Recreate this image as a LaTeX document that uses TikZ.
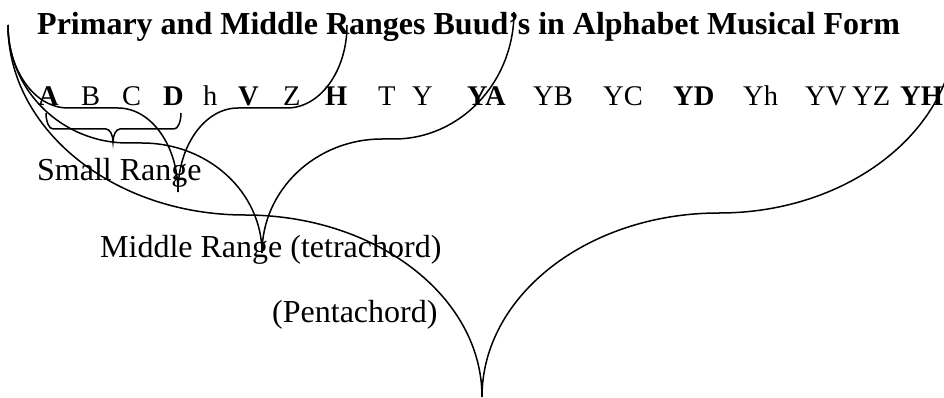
\documentclass[tikz,border=0pt]{standalone}
\usepackage{fontspec}
\setmainfont{Liberation Serif}
\newcommand\drawbrace[9]{%
% #1 xL #2 yL #3 xR #4 yR #5 xT #6 yT #7 yML #8 yMR #9 r
\pgfmathsetmacro\kk{0.5523}%
\pgfmathsetmacro\ca{#1}\pgfmathsetmacro\cb{#2+\kk*(#7-#2)}%
\pgfmathsetmacro\cc{#1+(1-\kk)*#9}\pgfmathsetmacro\pa{#1+#9}%
\pgfmathsetmacro\pb{#5-#9}\pgfmathsetmacro\cd{#5-(1-\kk)*#9}%
\pgfmathsetmacro\ce{#6-\kk*(#6-#7)}\pgfmathsetmacro\cf{#6-\kk*(#6-#8)}%
\pgfmathsetmacro\cg{#5+(1-\kk)*#9}\pgfmathsetmacro\pc{#5+#9}%
\pgfmathsetmacro\pd{#3-#9}\pgfmathsetmacro\ch{#3-(1-\kk)*#9}%
\pgfmathsetmacro\ci{#4+\kk*(#8-#4)}%
\draw[bracestroke] (#1,#2) .. controls (\ca,\cb) and (\cc,#7) .. (\pa,#7)
  -- (\pb,#7) .. controls (\cd,#7) and (#5,\ce) .. (#5,#6)
  .. controls (#5,\cf) and (\cg,#8) .. (\pc,#8)
  -- (\pd,#8) .. controls (\ch,#8) and (#3,\ci) .. (#3,#4);%
}
\begin{document}
\begin{tikzpicture}[x=1pt,y=-1pt,
  bracestroke/.style={line width=1.5pt,black},
  title/.style={font=\fontsize{32}{36}\selectfont\bfseries,anchor=base west,inner sep=0pt},
  letter/.style={font=\fontsize{28.5}{32}\selectfont,anchor=base west,inner sep=0pt},
  label/.style={font=\fontsize{32}{36}\selectfont,anchor=base west,inner sep=0pt}]
\useasboundingbox (0,0) rectangle (944,398);
\clip (0,0) rectangle (944,398);
\fill[white] (0,0) rectangle (944,398);
\node[title] (title) at (37,35) {Primary and Middle Ranges Buud’s in Alphabet Musical Form};
\foreach \x/\t [count=\i] in {38/\textbf{A},81/B,122/C,163/\textbf{D},203/h,238/\textbf{V},283/Z,325/\textbf{H},378/T,412/Y,467/\textbf{YA},533/YB,603/YC,673/\textbf{YD},743/Yh,805/YV,852/YZ,900/\textbf{YH}}
  \node[letter] (l\i) at (\x,106) {\t};
\node[label] (small) at (37,181) {Small Range};
\node[label] (middle) at (100,257) {Middle Range (tetrachord)};
\node[label] (penta) at (272,322) {(Pentachord)};
% small brace under A..D
\drawbrace{46}{113}{181}{113}{113}{142}{129}{129}{7}
% brace 1 (Small Range)
\drawbrace{8}{25}{347}{25}{178}{192}{108}{108}{60}
% brace 2 (Middle Range)
\drawbrace{8}{25}{514}{12}{262}{253}{143}{139}{120}
% brace 3 (Pentachord)
\drawbrace{8}{25}{956}{25}{482}{397}{215}{213}{237}
\end{tikzpicture}
\end{document}
